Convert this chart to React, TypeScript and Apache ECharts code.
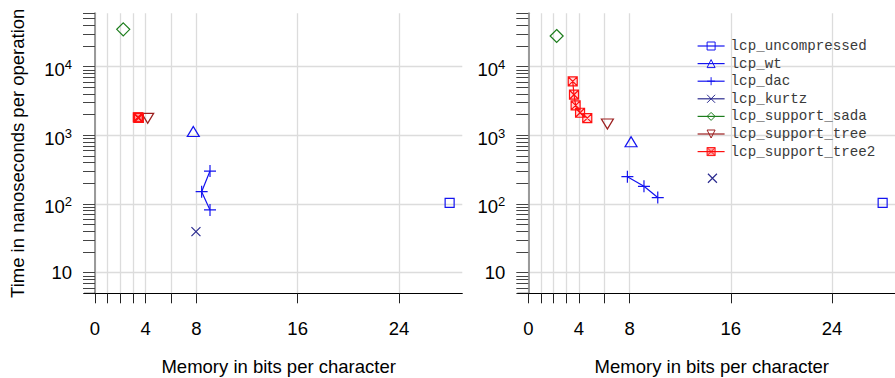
import React, { useEffect, useRef } from "react";
import * as echarts from "echarts";

// ---- Data (memory in bits per character, time in ns per operation) ----
const seriesNames = [
  "lcp_uncompressed",
  "lcp_wt",
  "lcp_dac",
  "lcp_kurtz",
  "lcp_support_sada",
  "lcp_support_tree",
  "lcp_support_tree2",
];

// Left panel
const leftUncompX = [28.0];
const leftUncompY = [104];
const leftWtX = [7.76];
const leftWtY = [1140];
const leftDacX = [9.08, 8.42, 9.08];
const leftDacY = [302, 151, 82];
const leftKurtzX = [7.97];
const leftKurtzY = [39.5];
const leftSadaX = [2.23];
const leftSadaY = [35000];
const leftTreeX = [4.16];
const leftTreeY = [1770];
const leftTree2X = [3.38, 3.42, 3.46];
const leftTree2Y = [1830, 1815, 1800];

// Right panel
const rightUncompX = [28.0];
const rightUncompY = [104];
const rightWtX = [8.12];
const rightWtY = [807];
const rightDacX = [7.83, 9.14, 10.23];
const rightDacY = [250, 181, 124];
const rightKurtzX = [14.55];
const rightKurtzY = [237];
const rightSadaX = [2.24];
const rightSadaY = [28000];
const rightTreeX = [6.25];
const rightTreeY = [1460];
const rightTree2X = [3.51, 3.61, 3.74, 4.09, 4.66];
const rightTree2Y = [6120, 3910, 2735, 2135, 1786];

// Axis ticks
const xTickValues = [0, 1, 2, 3, 4, 6, 8, 16, 24];
const xLabelValues = [0, 4, 8, 16, 24];
const yDecades = [1, 2, 3, 4];
const yMinValue = 5;
const yMaxValue = 60000;

const SANS = "'Liberation Sans', Arial, Helvetica, sans-serif";
const MONO = "'Liberation Mono', 'Courier New', monospace";

const BLUE = "#1414f0";
const KURTZ = "#2b2b8f";
const GREEN = "#1c7d1c";
const BROWN = "#9c1f1f";
const RED = "#ff1010";

const SYM_SQUARE = "path://M0,0L10,0L10,10L0,10Z";
const SYM_UP = "path://M5,0L10,9L0,9Z";
const SYM_PLUS = "path://M5,0L5,10M0,5L10,5";
const SYM_CROSS = "path://M0,0L10,10M10,0L0,10";
const SYM_DIAMOND = "path://M5,0L10,5L5,10L0,5Z";
const SYM_DOWN = "path://M0,0L10,0L5,9Z";
const SYM_BOXX = "path://M0,0L10,0L10,10L0,10Z M0,0L10,10M10,0L0,10";

type Style = { symbol: string; size: number | number[]; color: string; fill: string };
const styles: Style[] = [
  { symbol: SYM_SQUARE, size: 9, color: BLUE, fill: "none" },
  { symbol: SYM_UP, size: [12, 10], color: BLUE, fill: "none" },
  { symbol: SYM_PLUS, size: 12, color: BLUE, fill: "none" },
  { symbol: SYM_CROSS, size: 9, color: KURTZ, fill: "none" },
  { symbol: SYM_DIAMOND, size: 13, color: GREEN, fill: "none" },
  { symbol: SYM_DOWN, size: [12, 10], color: BROWN, fill: "none" },
  { symbol: SYM_BOXX, size: 9, color: RED, fill: "rgba(255,0,0,0.15)" },
];

const leftData = [
  [leftUncompX, leftUncompY],
  [leftWtX, leftWtY],
  [leftDacX, leftDacY],
  [leftKurtzX, leftKurtzY],
  [leftSadaX, leftSadaY],
  [leftTreeX, leftTreeY],
  [leftTree2X, leftTree2Y],
];
const rightData = [
  [rightUncompX, rightUncompY],
  [rightWtX, rightWtY],
  [rightDacX, rightDacY],
  [rightKurtzX, rightKurtzY],
  [rightSadaX, rightSadaY],
  [rightTreeX, rightTreeY],
  [rightTree2X, rightTree2Y],
];

const GRID_TOP = 13.3;
const GRID_H = 280;
const grids = [
  { left: 95, top: GRID_TOP, width: 367.3, height: GRID_H, outerBoundsMode: "none", containLabel: false },
  { left: 528.3, top: GRID_TOP, width: 367, height: GRID_H, outerBoundsMode: "none", containLabel: false },
];

const FS = 18.5;

export default function App() {
  const ref = useRef<HTMLDivElement>(null);

  useEffect(() => {
    document.body.style.margin = "0";
    if (!ref.current) return;
    const chart = echarts.init(ref.current, undefined, { renderer: "svg" });

    const LOG_MIN = Math.log10(yMinValue);
    const LOG_MAX = Math.log10(yMaxValue);
    const yTicks: number[] = [];
    for (let e = 0; e <= 4; e++) {
      for (let k = 1; k <= 9; k++) {
        const v = k * Math.pow(10, e);
        if (v >= yMinValue && v <= yMaxValue) yTicks.push(Math.log10(v));
      }
    }

    const xAxes = grids.map((_, i) => ({
      type: "value",
      gridIndex: i,
      min: 0,
      max: 29,
      axisLine: { show: true, onZero: false, lineStyle: { color: "#000", width: 1 } },
      axisTick: { show: true, length: 10, customValues: xTickValues, lineStyle: { color: "#222", width: 1 } },
      axisLabel: { customValues: xLabelValues, margin: 26, fontSize: FS, color: "#000", fontFamily: SANS },
      splitLine: { show: true, lineStyle: { color: "#dcdcdc", width: 1.3 } },
      name: "Memory in bits per character",
      nameLocation: "middle",
      nameGap: 64,
      nameTextStyle: { fontSize: FS, color: "#000", fontFamily: SANS },
    }));

    const yAxes: any[] = [];
    grids.forEach((_, i) => {
      yAxes.push({
        type: "value",
        gridIndex: i,
        min: LOG_MIN,
        max: LOG_MAX,
        position: "left",
        axisLine: { show: true, lineStyle: { color: "#9a9a9a", width: 2 } },
        axisTick: { show: true, length: 12, customValues: yTicks, lineStyle: { color: "#444", width: 1 } },
        axisLabel: {
          customValues: yDecades,
          margin: 23,
          fontSize: FS,
          color: "#000",
          fontFamily: SANS,
          formatter: (v: number) => {
            const n = Math.round(v);
            return n === 1 ? "10" : "{b|10}{s|" + n + "}";
          },
          rich: {
            b: { fontSize: FS, color: "#000", fontFamily: SANS, padding: [6, 0, 0, 0] },
            s: { fontSize: 13, color: "#000", fontFamily: SANS, padding: [0, 0, 4, 0] },
          },
        },
        splitLine: { show: false },
        name: i === 0 ? "Time in nanoseconds per operation" : "",
        nameLocation: "middle",
        nameGap: 68,
        nameTextStyle: { fontSize: FS, color: "#000", fontFamily: SANS },
      });
      yAxes.push({
        type: "value",
        gridIndex: i,
        min: LOG_MIN,
        max: LOG_MAX,
        position: "left",
        axisLine: { show: false },
        axisTick: { show: false, customValues: yDecades },
        axisLabel: { show: false },
        splitLine: { show: true, lineStyle: { color: "#dcdcdc", width: 1.3 } },
      });
    });

    const series: any[] = [];
    [leftData, rightData].forEach((panel, gi) => {
      panel.forEach(([xs, ys], si) => {
        const st = styles[si];
        series.push({
          type: "line",
          name: seriesNames[si],
          xAxisIndex: gi,
          yAxisIndex: gi * 2,
          data: xs.map((x, k) => [x, Math.log10(ys[k])]),
          symbol: st.symbol,
          symbolSize: st.size,
          showSymbol: true,
          itemStyle: { color: st.fill, borderColor: st.color, borderWidth: 1.2 },
          lineStyle: { color: st.color, width: 1.2 },
          emphasis: { disabled: true },
          z: 3,
        });
      });
    });

    const graphics = grids.map((g) => ({
      type: "line",
      shape: { x1: g.left - 11, y1: g.top + g.height, x2: g.left, y2: g.top + g.height },
      style: { stroke: "#000", lineWidth: 1 },
      z: 10,
    }));

    chart.setOption({
      animation: false,
      backgroundColor: "#fff",
      grid: grids,
      xAxis: xAxes,
      yAxis: yAxes,
      series,
      graphic: graphics,
      legend: {
        orient: "vertical",
        left: 692,
        top: 34,
        itemWidth: 27,
        itemHeight: 10,
        itemGap: 3.6,
        selectedMode: false,
        textStyle: { fontFamily: MONO, fontSize: 14.2, color: "#3a3a3a", padding: [0, 0, 0, 1] },
        data: seriesNames.map((n, i) => ({
          name: n,
          itemStyle: {
            color: styles[i].fill === "none" ? "none" : "rgba(255,0,0,0.35)",
            borderColor: styles[i].color,
            borderWidth: 1,
          },
          lineStyle: { color: styles[i].color, width: 1.2 },
        })),
      },
    });

    return () => chart.dispose();
  }, []);

  return (
    <div
      ref={ref}
      style={{ position: "absolute", left: 0, top: 0, width: 895, height: 378 }}
    />
  );
}
